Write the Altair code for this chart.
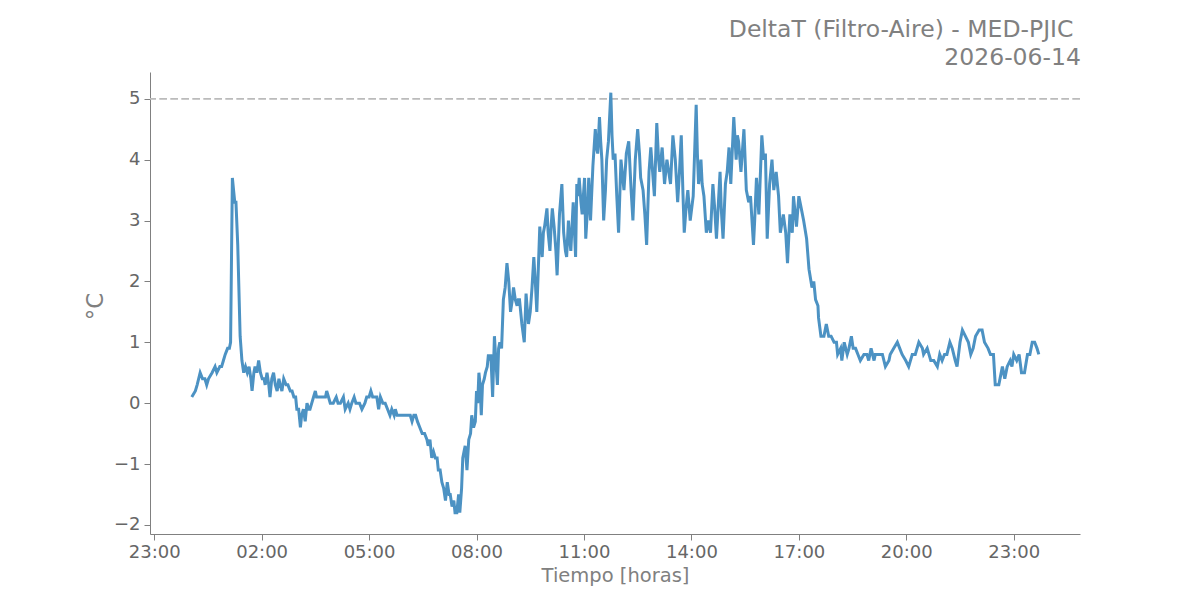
import altair as alt
import pandas as pd

DATE = "2026-06-14"

times = [
    "00:03","00:09","00:12","00:17","00:21","00:25","00:28","00:31","00:37","00:42",
    "00:45","00:50","00:53","00:56","00:59","01:03","01:06","01:08","01:11","01:13",
    "01:15","01:17","01:20","01:24","01:27","01:30","01:33","01:36","01:39","01:42",
    "01:44","01:47","01:49","01:52","01:55","01:58","02:01","02:04","02:06","02:09",
    "02:12","02:14","02:17","02:20","02:23","02:26","02:29","02:31","02:34","02:37",
    "02:41","02:44","02:48","02:51","02:54","02:57","02:59","03:02","03:05","03:07",
    "03:10","03:13","03:16","03:19","03:21","03:24","03:27","03:30","03:32","03:40",
    "03:47","03:49","03:52","03:55","04:00","04:05","04:08","04:12","04:17","04:20",
    "04:25","04:28","04:31","04:35","04:38","04:44","04:48","04:53","04:56","05:00",
    "05:03","05:06","05:10","05:13","05:16","05:19","05:23","05:27","05:31","05:35",
    "05:38","05:42","05:44","05:47","06:00","06:09","06:12","06:15","06:18","06:21",
    "06:25","06:29","06:33","06:37","06:39","06:42","06:45","06:48","06:51","06:54",
    "06:56","06:59","07:02","07:05","07:08","07:11","07:14","07:16","07:19","07:22",
    "07:24","07:27","07:30","07:32","07:35","07:37","07:39","07:41","07:44","07:47",
    "07:50","07:52","07:55","07:58","08:00","08:02","08:04","08:06","08:08","08:10",
    "08:13","08:15","08:18","08:20","08:22","08:24","08:27","08:30","08:33","08:35",
    "08:37","08:39","08:42","08:45","08:48","08:51","08:54","08:57","09:00","09:02",
    "09:05","09:08","09:10","09:12","09:16","09:20","09:23","09:27","09:30","09:33",
    "09:36","09:39","09:41","09:46","09:48","09:50","09:52","09:54","09:58","10:00",
    "10:03","10:05","10:07","10:10","10:13","10:15","10:19","10:23","10:26","10:29",
    "10:31","10:34","10:36","10:38","10:42","10:46","10:48","10:50","10:52","10:55",
    "10:57","11:01","11:03","11:06","11:08","11:11","11:15","11:19","11:21","11:23",
    "11:26","11:28","11:30","11:33","11:36","11:38","11:41","11:45","11:47","11:49",
    "11:52","11:55","11:58","12:02","12:04","12:07","12:11","12:15","12:19","12:22",
    "12:26","12:30","12:33","12:35","12:39","12:42","12:45","12:49","12:52","12:55",
    "12:58","13:02","13:05","13:07","13:11","13:15","13:19","13:22","13:25","13:29",
    "13:33","13:37","13:40","13:43","13:46","13:48","13:51","13:54","13:58","14:03",
    "14:08","14:10","14:12","14:16","14:18","14:21","14:25","14:28","14:32","14:36",
    "14:39","14:42","14:48","14:50","14:53","14:57","15:00","15:03","15:06","15:11",
    "15:15","15:17","15:19","15:23","15:28","15:32","15:36","15:39","15:44","15:46",
    "15:49","15:53","15:58","16:01","16:04","16:07","16:11","16:15","16:18","16:22",
    "16:26","16:29","16:34","16:38","16:41","16:45","16:49","16:51","16:56","17:00",
    "17:04","17:08","17:13","17:17","17:22","17:25","17:28","17:32","17:33","17:37",
    "17:42","17:46","17:50","17:54","17:59","18:03","18:05","18:10","18:12","18:16",
    "18:21","18:24","18:28","18:31","18:35","18:39","18:43","18:49","18:54","18:57",
    "19:01","19:06","19:08","19:14","19:20","19:25","19:31","19:33","19:39","19:45",
    "19:49","19:53","19:59","20:04","20:10","20:15","20:21","20:27","20:29","20:35",
    "20:41","20:46","20:52","20:56","21:00","21:04","21:08","21:13","21:17","21:22",
    "21:25","21:30","21:34","21:39","21:44","21:48","21:52","21:56","22:02","22:07",
    "22:11","22:17","22:21","22:26","22:29","22:35","22:41","22:45","22:49","22:54",
    "22:57","23:00","23:05","23:09","23:13","23:18","23:23","23:27","23:31","23:35",
    "23:39","23:42",
]

delta_t = [
    0.1,0.2,0.3,0.5,0.4,0.4,0.3,0.4,0.5,0.6,
    0.5,0.6,0.6,0.7,0.8,0.9,0.9,1.0,3.7,3.5,
    3.3,3.3,2.6,1.1,0.7,0.5,0.6,0.5,0.6,0.4,
    0.2,0.5,0.6,0.5,0.7,0.5,0.4,0.4,0.3,0.5,
    0.3,0.1,0.4,0.5,0.3,0.2,0.4,0.3,0.2,0.4,
    0.3,0.3,0.2,0.2,0.1,0.1,-0.1,-0.1,-0.4,-0.2,
    -0.1,-0.3,0.0,-0.1,-0.1,0.0,0.1,0.2,0.1,0.1,
    0.1,0.2,0.1,0.0,0.0,0.1,0.0,0.0,0.1,-0.1,
    0.0,-0.1,0.0,0.1,0.0,0.0,-0.1,0.0,0.1,0.1,
    0.2,0.1,0.1,0.1,-0.1,0.1,0.0,0.0,-0.1,-0.2,
    -0.1,-0.2,-0.1,-0.2,-0.2,-0.2,-0.3,-0.2,-0.2,-0.3,
    -0.4,-0.5,-0.5,-0.6,-0.7,-0.6,-0.9,-0.8,-0.9,-0.9,
    -1.1,-1.1,-1.3,-1.4,-1.6,-1.3,-1.5,-1.5,-1.7,-1.6,
    -1.8,-1.8,-1.5,-1.8,-1.4,-0.9,-0.8,-0.7,-1.1,-0.6,
    -0.5,-0.2,-0.4,-0.3,0.2,0.0,0.5,0.3,-0.2,0.3,
    0.4,0.5,0.6,0.8,0.7,0.8,0.1,1.1,0.6,0.3,
    0.9,1.0,0.9,1.7,1.9,2.3,2.0,1.5,1.7,1.9,
    1.7,1.6,1.7,1.7,1.3,1.0,1.8,1.3,1.5,1.9,
    2.4,1.9,1.5,2.9,2.6,2.4,2.8,2.9,3.2,2.8,
    2.5,2.9,3.2,2.9,2.5,2.1,3.1,3.6,2.8,2.5,
    2.4,3.0,2.7,2.5,3.3,2.4,3.6,3.4,3.7,3.3,
    3.1,3.7,2.7,3.2,3.7,3.0,3.9,4.5,4.2,4.1,
    4.7,4.3,4.0,3.0,3.5,4.0,4.3,5.1,4.4,4.0,
    4.1,3.4,2.8,4.0,3.8,3.5,4.1,4.3,3.5,3.0,
    4.0,4.5,4.1,3.7,3.5,3.1,2.6,3.8,4.2,3.8,
    3.4,4.6,4.0,3.8,4.2,3.6,4.0,3.8,3.6,4.4,
    4.0,3.3,3.8,4.4,3.4,2.8,3.2,3.5,3.0,3.4,
    4.9,4.1,3.6,4.0,3.6,3.4,2.8,3.0,2.8,3.6,
    3.2,2.7,3.8,3.2,2.7,3.6,3.8,4.2,3.6,4.7,
    4.0,4.4,4.3,3.8,4.5,3.5,3.3,3.4,2.6,3.0,
    3.7,3.1,4.4,4.0,4.1,2.7,3.6,4.0,3.5,3.8,
    3.4,2.8,3.1,2.8,2.3,3.1,2.8,3.4,2.9,3.4,
    3.2,3.0,2.7,2.2,1.9,2.0,1.7,1.6,1.4,1.1,
    1.1,1.3,1.1,1.1,1.0,1.0,0.8,0.9,0.7,1.0,
    0.8,0.9,1.1,0.9,0.9,0.8,0.7,0.8,0.8,0.7,
    0.9,0.7,0.8,0.8,0.8,0.6,0.7,0.8,0.9,1.0,
    0.9,0.8,0.7,0.6,0.8,0.8,1.0,0.9,0.8,0.9,
    0.7,0.7,0.6,0.8,0.7,0.8,0.8,1.0,0.9,0.7,
    0.6,1.0,1.2,1.1,1.0,0.8,0.9,1.1,1.2,1.2,
    1.0,0.9,0.8,0.8,0.3,0.3,0.6,0.4,0.6,0.7,
    0.6,0.8,0.7,0.8,0.5,0.5,0.8,0.8,1.0,1.0,
    0.9,0.8,
]

y_ticks = [-2, -1, 0, 1, 2, 3, 4, 5]
threshold = [5]
title_lines = ["DeltaT (Filtro-Aire) - MED-PJIC\u00a0\u200b", DATE]

df = pd.DataFrame({
    "tiempo": [f"{DATE}T{t}:00" for t in times],
    "valor": delta_t,
})
df_thr = pd.DataFrame({"valor": threshold})

x_ticks = [alt.DateTime(year=2026, month=6, date=13, hours=23)] + [
    alt.DateTime(year=2026, month=6, date=14, hours=h) for h in range(2, 24, 3)
]
x_domain = [
    alt.DateTime(year=2026, month=6, date=13, hours=22, minutes=53),
    alt.DateTime(year=2026, month=6, date=15, hours=0, minutes=51),
]

GRAY = "#808080"
FONT = "DejaVu Sans"

x_enc = alt.X(
    "tiempo:T",
    scale=alt.Scale(domain=x_domain),
    axis=alt.Axis(
        title="Tiempo [horas]", values=x_ticks, format="%H:%M",
        labelFontSize=18, labelColor="#666666", labelFont=FONT, labelPadding=3,
        titleFontSize=19.5, titleColor=GRAY, titleFont=FONT, titleFontWeight="normal",
        titlePadding=5, tickSize=6, tickColor=GRAY, domainColor=GRAY,
        tickWidth=1, domainWidth=1, grid=False, labelFlush=False, labelOverlap=False,
    ),
)
y_scale = alt.Scale(domain=[-2.15, 5.44], nice=False, zero=False)

line = alt.Chart(df).mark_line(color="#4C92C3", strokeWidth=3, interpolate="linear").encode(
    x=x_enc,
    y=alt.Y(
        "valor:Q", scale=y_scale,
        axis=alt.Axis(
            title="°C", values=y_ticks, format="d",
            labelFontSize=18, labelColor="#666666", labelFont=FONT, labelPadding=4,
            titleFontSize=23, titleColor=GRAY, titleFont=FONT, titleFontWeight="normal",
            titleX=-55, titleY=234, titleAngle=270, titleAlign="center", titleBaseline="middle",
            tickSize=6, tickColor=GRAY, domainColor=GRAY, tickWidth=1, domainWidth=1,
            grid=False,
        ),
    ),
)

rule = alt.Chart(df_thr).mark_rule(color="#bbbbbb", strokeDash=[7.7, 3.3], strokeWidth=1.8).encode(
    y=alt.Y("valor:Q", scale=y_scale)
)

chart = alt.layer(rule, line).properties(
    width=930,
    height=462,
    autosize="none",
    padding={"left": 142, "top": 64, "right": 20, "bottom": 70},
    title=alt.TitleParams(
        text=title_lines, anchor="end", fontSize=23.5, font=FONT, fontWeight="normal",
        color=GRAY, lineHeight=28, offset=3,
    ),
).configure_view(strokeWidth=0)

chart.save("out.html", embed_options={"renderer": "svg", "actions": False})
